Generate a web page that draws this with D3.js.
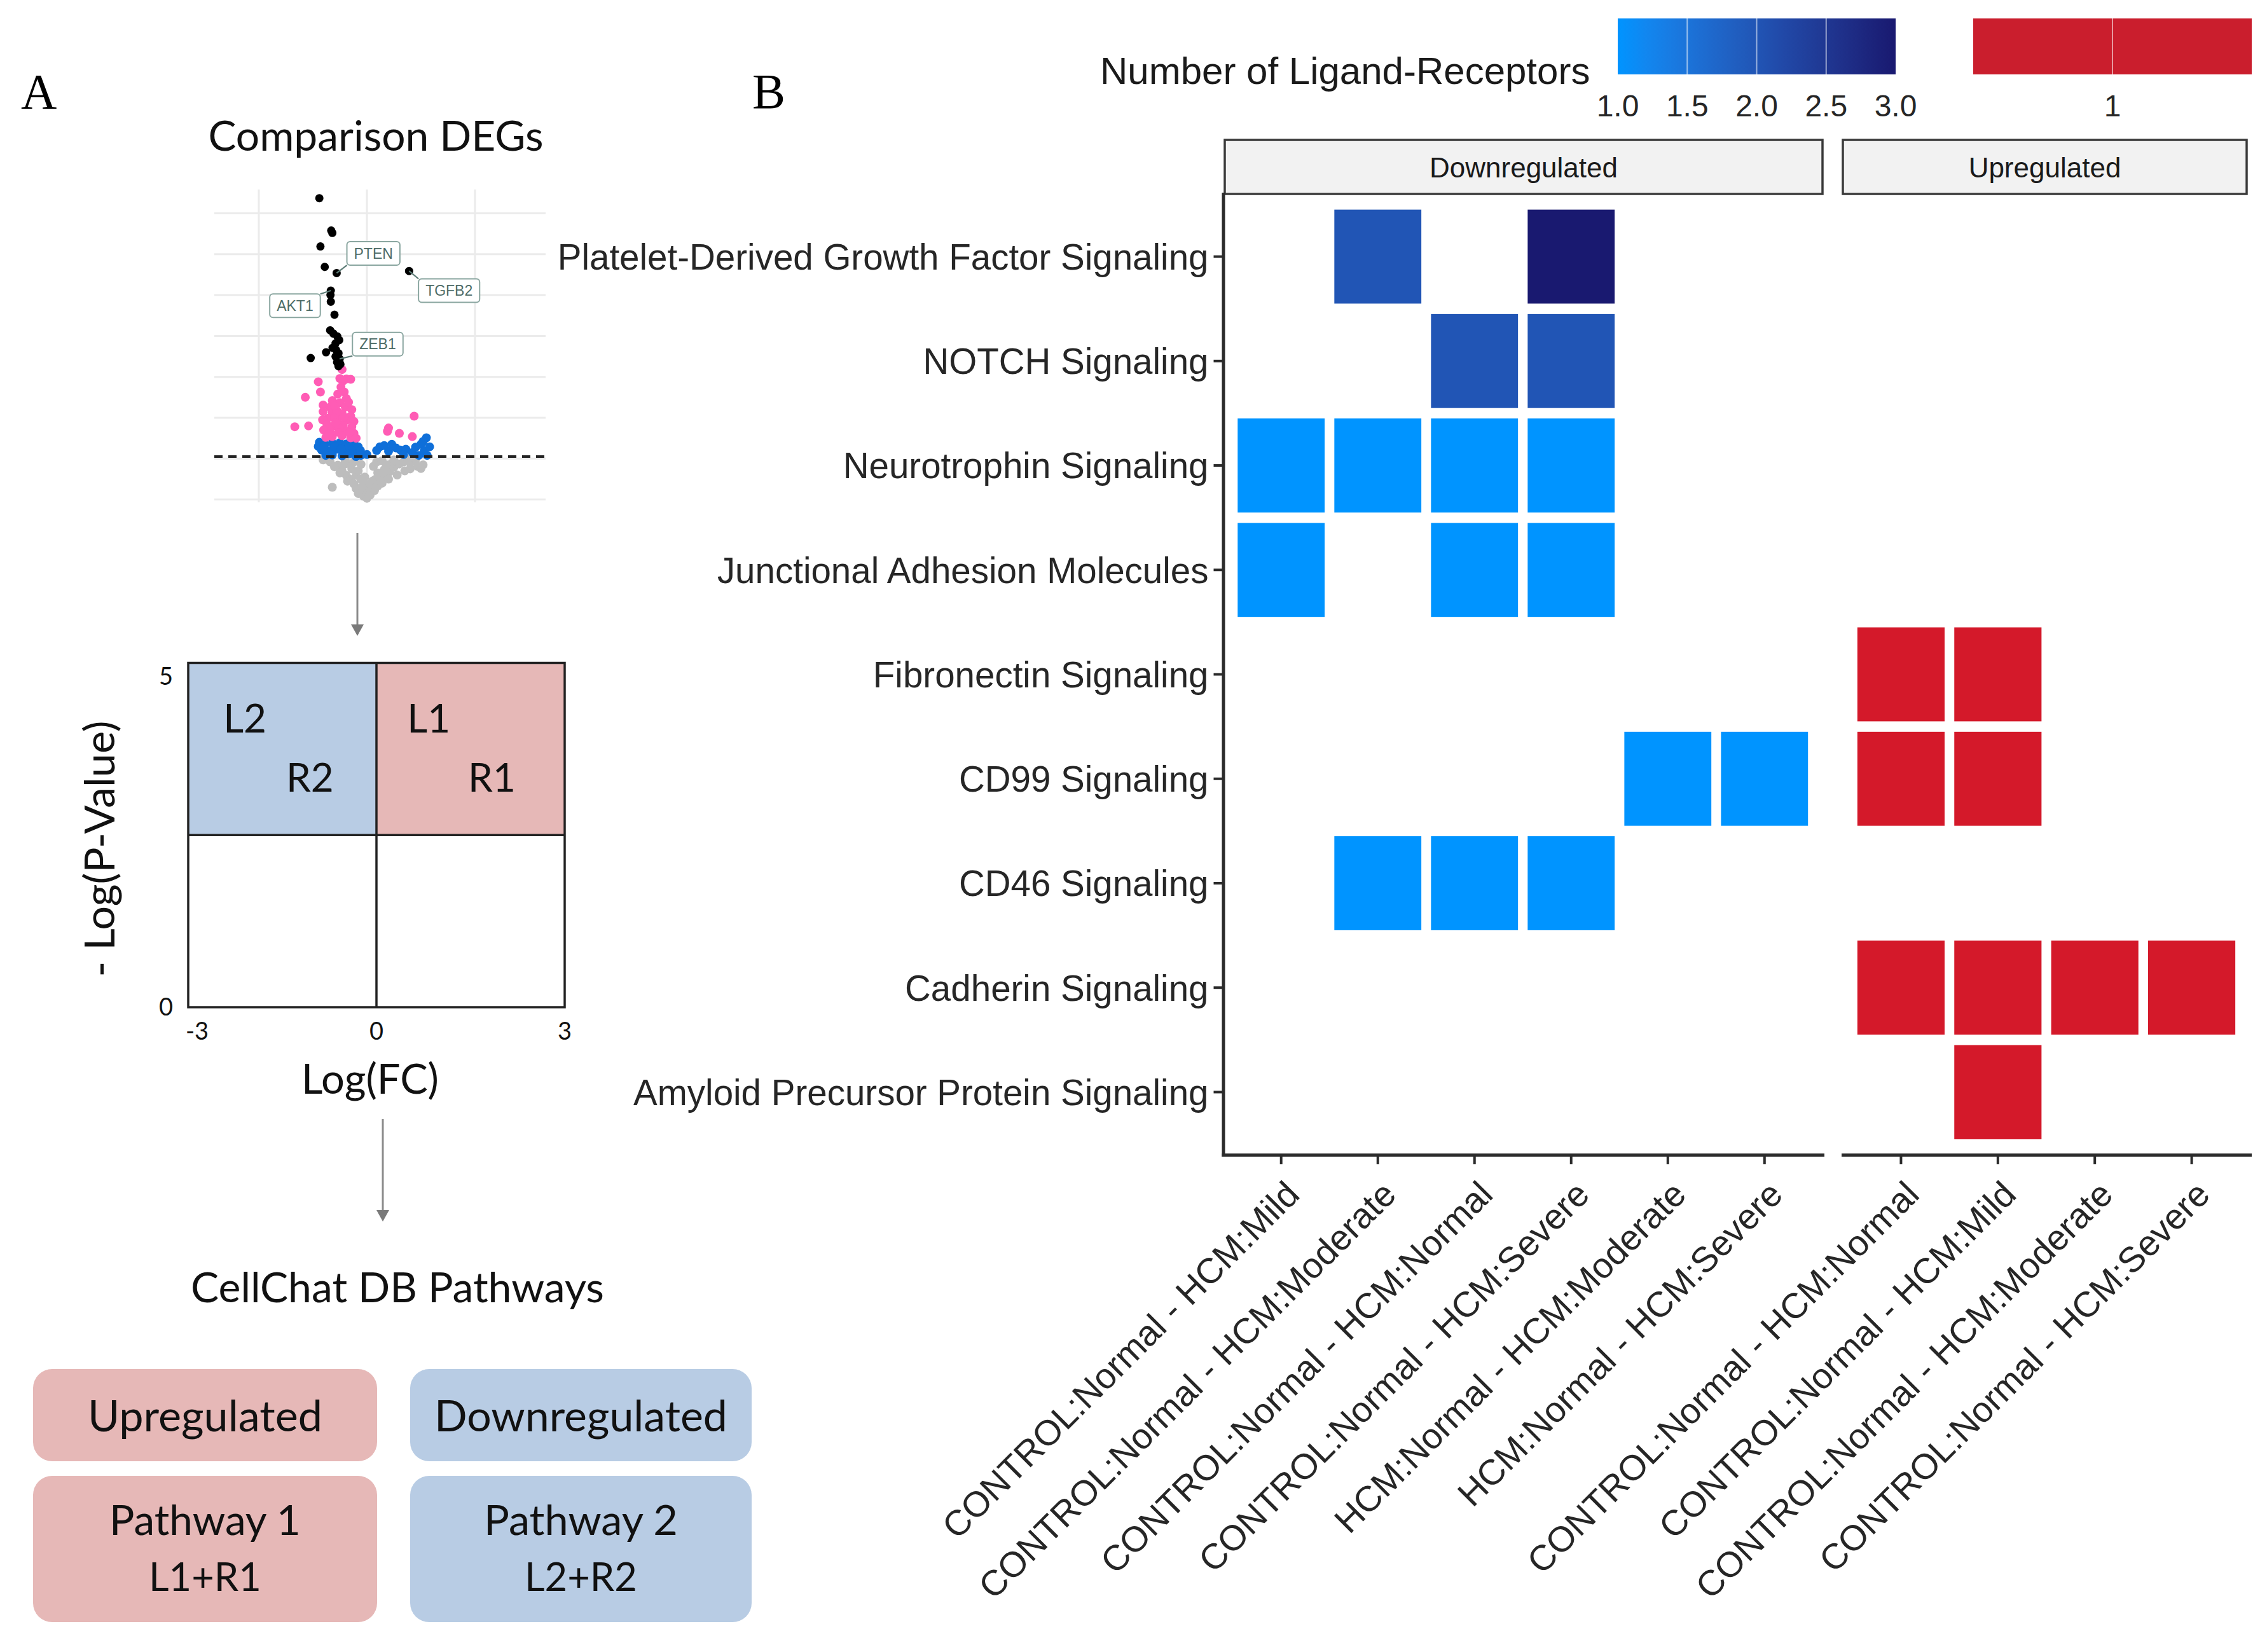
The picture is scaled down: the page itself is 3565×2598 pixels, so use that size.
<!DOCTYPE html>
<html><head><meta charset="utf-8">
<script src="https://cdn.jsdelivr.net/npm/d3@7"></script>
<style>body{margin:0;background:#fff}</style>
</head><body>
<svg id="c" width="3565" height="2598"></svg>
<script>
// ---------------- DATA ----------------
const pathways = ["Platelet-Derived Growth Factor Signaling","NOTCH Signaling","Neurotrophin Signaling",
  "Junctional Adhesion Molecules","Fibronectin Signaling","CD99 Signaling","CD46 Signaling",
  "Cadherin Signaling","Amyloid Precursor Protein Signaling"];
const facets = ["Downregulated","Upregulated"];
const downComparisons = ["CONTROL:Normal - HCM:Mild","CONTROL:Normal - HCM:Moderate","CONTROL:Normal - HCM:Normal",
  "CONTROL:Normal - HCM:Severe","HCM:Normal - HCM:Moderate","HCM:Normal - HCM:Severe"];
const upComparisons = ["CONTROL:Normal - HCM:Normal","CONTROL:Normal - HCM:Mild","CONTROL:Normal - HCM:Moderate","CONTROL:Normal - HCM:Severe"];
// number of ligand-receptor pairs (0 = no tile)
const downValues = [
  [0,2,0,3,0,0],
  [0,0,2,2,0,0],
  [1,1,1,1,0,0],
  [1,0,1,1,0,0],
  [0,0,0,0,0,0],
  [0,0,0,0,1,1],
  [0,1,1,1,0,0],
  [0,0,0,0,0,0],
  [0,0,0,0,0,0]];
const upValues = [
  [0,0,0,0],
  [0,0,0,0],
  [0,0,0,0],
  [0,0,0,0],
  [1,1,0,0],
  [1,1,0,0],
  [0,0,0,0],
  [1,1,1,1],
  [0,1,0,0]];
const downLegendTicks = [1.0,1.5,2.0,2.5,3.0];
const upLegendTicks = [1];

// volcano points [logFC, -log10 p]
const blackPoints = [[-0.44,7.37],[-0.33,6.58],[-0.32,6.52],[-0.43,6.19],[-0.39,5.69],[-0.28,5.54],[0.39,5.59],
  [-0.334,5.11],[-0.337,5.00],[-0.334,4.84],[-0.30,4.52],[-0.34,4.14],[-0.31,4.06],[-0.274,3.99],[-0.256,3.90],
  [-0.29,3.82],[-0.318,3.71],[-0.285,3.66],[-0.263,3.58],[-0.29,3.50],[-0.252,3.44],[-0.276,3.36],[-0.245,3.31],
  [-0.263,3.26],[-0.378,3.60],[-0.52,3.46]];
const pinkPoints = [[-0.23,3.18],[-0.25,2.96],[-0.19,2.95],[-0.15,2.94],[-0.22,2.90],[-0.45,2.88],
  [-0.21,2.63],[-0.27,2.58],[-0.43,2.63],[-0.19,2.47],[-0.57,2.50],
  [-0.32,2.42],[-0.25,2.37],[-0.34,2.26],[-0.20,2.26],[-0.14,2.20],[-0.405,2.31],
  [-0.405,2.15],[-0.32,2.13],[-0.23,2.10],[-0.15,2.04],[-0.28,2.18],
  [-0.36,1.99],[-0.27,1.96],[-0.19,1.94],[-0.12,1.91],[-0.41,1.95],
  [-0.37,1.83],[-0.31,1.80],[-0.22,1.83],[-0.14,1.78],[-0.26,1.75],
  [-0.34,1.67],[-0.26,1.64],[-0.19,1.67],[-0.12,1.62],[-0.40,1.70],
  [-0.32,1.54],[-0.23,1.56],[-0.15,1.51],[-0.38,1.52],[-0.10,1.50],
  [-0.24,2.75],[-0.30,2.00],[-0.17,2.38],[-0.35,1.60],[-0.29,1.88],[-0.16,1.64],[-0.21,2.02],[-0.30,2.30],
  [-0.667,1.78],[-0.54,1.80],[0.437,2.04],[0.20,1.75],[0.19,1.67],[0.30,1.62],[0.42,1.54]];
const bluePoints = [[-0.44,1.40],[-0.39,1.35],[-0.32,1.38],[-0.25,1.39],[-0.19,1.36],[-0.12,1.38],[-0.08,1.29],
  [-0.42,1.21],[-0.35,1.19],[-0.28,1.23],[-0.21,1.16],[-0.14,1.20],[-0.09,1.13],[-0.38,1.08],[-0.32,1.09],
  [-0.23,1.07],[-0.10,1.05],[-0.055,1.08],[-0.45,1.30],[-0.17,1.30],
  [-0.40,1.28],[-0.30,1.30],[-0.24,1.24],[-0.16,1.12],[-0.06,1.20],[0.00,1.10],
  [0.12,1.29],[0.16,1.32],[0.23,1.35],[0.27,1.26],[0.31,1.21],[0.36,1.23],[0.34,1.10],[0.50,1.35],
  [0.55,1.51],[0.53,1.19],[0.557,1.08],[0.48,1.08],[0.58,1.29],[0.09,1.20],
  [0.20,1.18],[0.42,1.15],[0.45,1.28],[0.52,1.42]];
const greyPoints = [[-0.405,0.97],[-0.34,0.92],[-0.27,0.84],[-0.23,0.70],[-0.19,0.59],[-0.15,0.49],[-0.12,0.38],
  [-0.10,0.27],[-0.07,0.16],[-0.03,0.08],[0,0.03],[0.03,0.11],[0.07,0.22],[0.10,0.33],[0.13,0.46],[0.16,0.57],
  [0.21,0.68],[0.25,0.79],[0.30,0.87],[0.34,0.92],[0.40,0.90],[0.47,0.81],[0.50,0.76],[-0.10,0.59],[-0.055,0.49],
  [-0.01,0.38],[0.03,0.33],[0.076,0.49],[0.12,0.59],[-0.14,0.75],[-0.21,0.86],[-0.08,0.70],[0.16,0.73],[0.22,0.87],
  [-0.32,0.30],[-0.03,0.24],[0.01,0.19],[-0.12,0.92],[-0.055,0.86],[0.06,0.81],[0.09,0.92],[0.14,0.95],[0.25,0.97],[0.45,0.97],
  [-0.30,0.80],[-0.25,0.65],[-0.18,0.45],[-0.05,0.30],[0.05,0.45],[0.10,0.65],[0.18,0.85],[0.28,0.60],[0.35,0.70],
  [0.40,0.75],[-0.08,0.15],[0.02,0.10],[0.08,0.30],[-0.15,0.85],[-0.02,0.55],[0.14,0.40],[0.20,0.50],[-0.20,0.95],
  [0.38,0.98],[0.52,0.85]];
const pThreshold = 1.05;
const geneLabels = [
  {gene:"PTEN",  point:[-0.28,5.54], box:[0.06,6.02]},
  {gene:"TGFB2", point:[0.39,5.59],  box:[0.76,5.11]},
  {gene:"AKT1",  point:[-0.334,5.11],box:[-0.665,4.74]},
  {gene:"ZEB1",  point:[-0.252,3.44],box:[0.10,3.80]}];

// ---------------- SETUP ----------------
const svg = d3.select("#c");
svg.append("rect").attr("width",3565).attr("height",2598).attr("fill","#fff");
const SANS = "'Liberation Sans', Arial, sans-serif";
const CAL = "Lato, 'Open Sans', sans-serif";
function fit(t, w){ const b=t.node().getComputedTextLength(); const fs=parseFloat(t.attr("font-size")); t.attr("font-size", fs*w/b); return t; }

// panel letters
svg.append("text").attr("x",33).attr("y",170).attr("font-family","'Liberation Serif', serif").attr("font-size",78).text("A");
svg.append("text").attr("x",1183).attr("y",170).attr("font-family","'Liberation Serif', serif").attr("font-size",78).text("B");

// ---------------- PANEL B ----------------
const yBand = d3.scaleBand().domain(pathways).range([305,1816]).paddingInner(0.1).paddingOuter(0.15);
const xDown = d3.scaleBand().domain(downComparisons).range([1923.5,2866]).paddingInner(0.1).paddingOuter(0.15);
const xUp = d3.scaleBand().domain(upComparisons).range([2898,3538]).paddingInner(0.1).paddingOuter(0.15);
const blueScale = d3.scaleLinear().domain([1,3]).range(["#0094FF","#191970"]).interpolate(d3.interpolateLab);
const redScale = d3.scaleOrdinal().domain([1]).range(["#D4192A"]);

const cells = [];
downValues.forEach((row,i)=>row.forEach((v,j)=>{ if(v>0) cells.push({p:pathways[i], c:downComparisons[j], v, f:"down"}); }));
upValues.forEach((row,i)=>row.forEach((v,j)=>{ if(v>0) cells.push({p:pathways[i], c:upComparisons[j], v, f:"up"}); }));

svg.append("g").selectAll("rect").data(cells).join("rect")
  .attr("x", d => d.f==="down" ? xDown(d.c) : xUp(d.c))
  .attr("y", d => yBand(d.p))
  .attr("width", d => d.f==="down" ? xDown.bandwidth() : xUp.bandwidth())
  .attr("height", yBand.bandwidth())
  .attr("fill", d => d.f==="down" ? blueScale(d.v) : redScale(d.v));

// strips
const stripData = [{name:facets[0], x0:1926, x1:2866},{name:facets[1], x0:2898, x1:3533}];
const strips = svg.append("g").selectAll("g").data(stripData).join("g");
strips.append("rect").attr("x",d=>d.x0).attr("y",220).attr("width",d=>d.x1-d.x0).attr("height",85)
  .attr("fill","#F2F2F2").attr("stroke","#3a3a3a").attr("stroke-width",3.5);
strips.append("text").attr("x",d=>(d.x0+d.x1)/2).attr("y",279).attr("text-anchor","middle")
  .attr("font-family",SANS).attr("font-size",44).attr("fill","#1a1a1a").text(d=>d.name);

// axes
function styleAxis(g){
  g.attr("font-family",SANS);
  g.select(".domain").attr("stroke","#2b2b2b").attr("stroke-width",5).attr("stroke-linecap","square");
  g.selectAll(".tick line").attr("stroke","#2b2b2b").attr("stroke-width",4);
  g.selectAll("text").attr("fill","#262626").attr("font-family",SANS);
}
const yAx = svg.append("g").attr("transform","translate(1923.5,0)")
  .call(d3.axisLeft(yBand).tickSize(15).tickSizeOuter(0).tickPadding(8));
styleAxis(yAx);
yAx.selectAll("text").attr("font-size",56.5).attr("dy","0.36em");

[xDown,xUp].forEach(sc=>{
  const g = svg.append("g").attr("transform","translate(0,1816)")
    .call(d3.axisBottom(sc).tickSize(15).tickSizeOuter(0));
  styleAxis(g);
  g.selectAll("text").attr("font-size",56).attr("x",0).attr("y",0).attr("dy","0.75em")
    .attr("text-anchor","end").attr("transform","translate(2,36) rotate(-45)");
});

// legend
svg.append("text").attr("x",1730).attr("y",132).attr("font-family",SANS).attr("font-size",60).attr("fill","#1a1a1a")
  .text("Number of Ligand-Receptors");
const legX = d3.scaleLinear().domain([1,3]).range([2544,2981]);
const gradId = "blueGrad";
const grad = svg.append("defs").append("linearGradient").attr("id",gradId);
d3.range(0,1.0001,0.1).forEach(t=>grad.append("stop").attr("offset",t).attr("stop-color",blueScale(1+2*t)));
svg.append("rect").attr("x",legX(1)).attr("y",29).attr("width",legX(3)-legX(1)).attr("height",88).attr("fill",`url(#${gradId})`);
svg.append("g").selectAll("line").data(downLegendTicks.slice(1,-1)).join("line")
  .attr("x1",d=>legX(d)).attr("x2",d=>legX(d)).attr("y1",29).attr("y2",117).attr("stroke","#fff").attr("stroke-opacity",0.55).attr("stroke-width",2);
svg.append("g").selectAll("text").data(downLegendTicks).join("text")
  .attr("x",d=>legX(d)).attr("y",183).attr("text-anchor","middle").attr("font-family",SANS).attr("font-size",48).attr("fill","#262626")
  .text(d=>d.toFixed(1));
const upLegX = d3.scaleLinear().domain([0.5,1.5]).range([3103,3541]);
svg.append("rect").attr("x",upLegX(0.5)).attr("y",29).attr("width",upLegX(1.5)-upLegX(0.5)).attr("height",88).attr("fill",redScale(1));
svg.append("rect").attr("x",upLegX(0.5)).attr("y",29).attr("width",upLegX(1.5)-upLegX(0.5)).attr("height",88).attr("fill","#555").attr("opacity",0.08);
svg.append("g").selectAll("line").data(upLegendTicks).join("line")
  .attr("x1",d=>upLegX(d)).attr("x2",d=>upLegX(d)).attr("y1",29).attr("y2",117).attr("stroke","#fff").attr("stroke-opacity",0.55).attr("stroke-width",2);
svg.append("g").selectAll("text").data(upLegendTicks).join("text")
  .attr("x",d=>upLegX(d)).attr("y",183).attr("text-anchor","middle").attr("font-family",SANS).attr("font-size",48).attr("fill","#262626")
  .text(d=>d);

// ---------------- PANEL A ----------------
fit(svg.append("text").attr("x",591).attr("y",237).attr("text-anchor","middle").attr("font-family",CAL).attr("font-size",70)
  .attr("fill","#111").text("Comparison DEGs"), 527);

// volcano
const vx = d3.scaleLinear().domain([-1,1]).range([407,747]);
const vy = d3.scaleLinear().domain([0,7]).range([785.6,335.5]);
const vg = svg.append("g");
vg.selectAll(".hg").data(d3.range(0,8)).join("line").attr("x1",337).attr("x2",858).attr("y1",d=>vy(d)).attr("y2",d=>vy(d))
  .attr("stroke","#EBEBEB").attr("stroke-width",3);
vg.selectAll(".vg").data([-1,0,1]).join("line").attr("x1",d=>vx(d)).attr("x2",d=>vx(d)).attr("y1",298).attr("y2",790)
  .attr("stroke","#EBEBEB").attr("stroke-width",3);
function pts(data,col,r){ vg.append("g").selectAll("circle").data(data).join("circle")
  .attr("cx",d=>vx(d[0])).attr("cy",d=>vy(d[1])).attr("r",r).attr("fill",col); }
pts(greyPoints,"#BDBDBD",7);
pts(bluePoints,"#0F6FD9",7);
pts(pinkPoints,"#FF5CB5",7);
vg.append("line").attr("x1",337).attr("x2",858).attr("y1",vy(pThreshold)).attr("y2",vy(pThreshold))
  .attr("stroke","#222").attr("stroke-width",4).attr("stroke-dasharray","13 9");
pts(blackPoints,"#000",6.5);
geneLabels.forEach(l=>{
  const bx = vx(l.box[0]), by = vy(l.box[1]);
  const t = vg.append("text").attr("x",bx).attr("y",by).attr("dy","0.35em").attr("text-anchor","middle")
    .attr("font-family",SANS).attr("font-size",23).attr("fill","#4E6C67").text(l.gene);
  const w = t.node().getComputedTextLength()+22, h=37;
  const px = vx(l.point[0]), py = vy(l.point[1]);
  const ex = Math.max(bx-w/2, Math.min(bx+w/2, px)), ey = Math.max(by-h/2, Math.min(by+h/2, py));
  vg.insert("line", "text").attr("x1",px).attr("y1",py).attr("x2",ex).attr("y2",ey).attr("stroke","#5D7D77").attr("stroke-width",2.2);
  vg.insert("rect","text").attr("x",bx-w/2).attr("y",by-h/2).attr("width",w).attr("height",h).attr("rx",5)
    .attr("fill","#fff").attr("stroke","#8AA6A0").attr("stroke-width",2);
});

// arrows
function arrow(x,y0,y1){
  svg.append("line").attr("x1",x).attr("x2",x).attr("y1",y0).attr("y2",y1-14).attr("stroke","#8a8a8a").attr("stroke-width",3);
  svg.append("path").attr("d",`M${x-10},${y1-18}L${x+10},${y1-18}L${x},${y1}Z`).attr("fill","#7a7a7a");
}
arrow(562,838,1000);
arrow(602,1760,1921);

// quadrant schematic
const qx = d3.scaleLinear().domain([-3,3]).range([296,888]);
const qy = d3.scaleLinear().domain([0,5]).range([1584,1042.5]);
const qg = svg.append("g");
qg.append("rect").attr("x",qx(-3)).attr("y",qy(5)).attr("width",qx(0)-qx(-3)).attr("height",qy(2.5)-qy(5)).attr("fill","#B8CCE4");
qg.append("rect").attr("x",qx(0)).attr("y",qy(5)).attr("width",qx(3)-qx(0)).attr("height",qy(2.5)-qy(5)).attr("fill","#E6B8B7");
qg.append("rect").attr("x",qx(-3)).attr("y",qy(5)).attr("width",qx(3)-qx(-3)).attr("height",qy(0)-qy(5))
  .attr("fill","none").attr("stroke","#222").attr("stroke-width",3.5);
qg.append("line").attr("x1",qx(0)).attr("x2",qx(0)).attr("y1",qy(5)).attr("y2",qy(0)).attr("stroke","#222").attr("stroke-width",3.5);
qg.append("line").attr("x1",qx(-3)).attr("x2",qx(3)).attr("y1",qy(2.5)).attr("y2",qy(2.5)).attr("stroke","#222").attr("stroke-width",3.5);
const quadLabels = [["L2",-2.44,3.99],["R2",-1.44,3.13],["L1",0.49,3.99],["R1",1.46,3.13]];
qg.selectAll(".ql").data(quadLabels).join("text").attr("x",d=>qx(d[1])).attr("y",d=>qy(d[2]))
  .attr("font-family",CAL).attr("font-size",62).attr("fill","#111").text(d=>d[0]);
qg.selectAll(".yt").data([5,0]).join("text").attr("x",272).attr("y",d=>d===5?1077:1597).attr("text-anchor","end")
  .attr("font-family",CAL).attr("font-size",38).attr("fill","#111").text(d=>d);
qg.selectAll(".xt").data([-3,0,3]).join("text").attr("x",d=>qx(d)+(d===-3?14:0)).attr("y",1635).attr("text-anchor","middle")
  .attr("font-family",CAL).attr("font-size",38).attr("fill","#111").text(d=>d);
fit(qg.append("text").attr("x",582).attr("y",1720).attr("text-anchor","middle").attr("font-family",CAL).attr("font-size",64)
  .attr("fill","#111").text("Log(FC)"), 216);
fit(qg.append("text").attr("transform","translate(180,1335) rotate(-90)").attr("text-anchor","middle").attr("font-family",CAL)
  .attr("font-size",60).attr("fill","#111").text("- Log(P-Value)"), 403);

fit(svg.append("text").attr("x",625).attr("y",2048).attr("text-anchor","middle").attr("font-family",CAL).attr("font-size",66)
  .attr("fill","#111").text("CellChat DB Pathways"), 650);

// pathway boxes
const boxes = [
  {x:52, y:2153, w:541, h:145, fill:"#E6B8B7", lines:["Upregulated"], tw:[369], base:[2251]},
  {x:645,y:2153, w:537, h:145, fill:"#B8CCE4", lines:["Downregulated"], tw:[461], base:[2251]},
  {x:52, y:2321, w:541, h:230, fill:"#E6B8B7", lines:["Pathway 1","L1+R1"], tw:[301,177], base:[2414,2502]},
  {x:645,y:2321, w:537, h:230, fill:"#B8CCE4", lines:["Pathway 2","L2+R2"], tw:[305,177], base:[2414,2502]}];
boxes.forEach(b=>{
  svg.append("rect").attr("x",b.x).attr("y",b.y).attr("width",b.w).attr("height",b.h).attr("rx",30).attr("fill",b.fill);
  b.lines.forEach((s,i)=>fit(svg.append("text").attr("x",b.x+b.w/2).attr("y",b.base[i]).attr("text-anchor","middle")
    .attr("font-family",CAL).attr("font-size",66).attr("fill","#111").text(s), b.tw[i]));
});
</script>
</body></html>
